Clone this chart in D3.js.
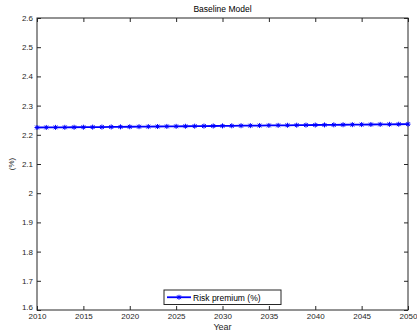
<!DOCTYPE html>
<html>
<head>
<meta charset="utf-8">
<script src="https://cdn.jsdelivr.net/npm/d3@7"></script>
<style>
  body { margin: 0; background: #fff; }
  svg { display: block; font-family: "Liberation Sans", Arial, sans-serif; }
</style>
</head>
<body>
<svg id="chart" width="417" height="335"></svg>
<script>
// data
var years = d3.range(2010, 2051);
var riskPremium = [
  2.2250, 2.2252, 2.2254, 2.2256, 2.2258, 2.2260, 2.2263, 2.2266, 2.2269, 2.2272,
  2.2275, 2.2278, 2.2281, 2.2284, 2.2287, 2.2290, 2.2293, 2.2296, 2.2299, 2.2302,
  2.2305, 2.2308, 2.2311, 2.2314, 2.2317, 2.2320, 2.2323, 2.2326, 2.2329, 2.2332,
  2.2335, 2.2338, 2.2341, 2.2344, 2.2347, 2.2350, 2.2353, 2.2356, 2.2359, 2.2362,
  2.2365
];
var xTicks = [2010, 2015, 2020, 2025, 2030, 2035, 2040, 2045, 2050];
var yTicks = [1.6, 1.7, 1.8, 1.9, 2, 2.1, 2.2, 2.3, 2.4, 2.5, 2.6];
var title = 'Baseline Model';
var seriesName = 'Risk premium (%)';

// plot box (note: "top" is reserved on window, so use pTop etc.)
var pLeft = 37, pRight = 408, pTop = 18, pBottom = 310;
var svg = d3.select('#chart');

var x = d3.scaleLinear().domain([2010, 2050]).range([pLeft, pRight]);
var y = d3.scaleLinear().domain([1.6, 2.6]).range([pBottom, pTop]);

var axisColor = '#262626';
var tickLen = 4;

// box
svg.append('rect')
  .attr('x', pLeft).attr('y', pTop)
  .attr('width', pRight - pLeft).attr('height', pBottom - pTop)
  .attr('fill', 'none').attr('stroke', axisColor).attr('stroke-width', 1);

// axes (ticks pointing inward, MATLAB style)
function styleAxis(g){
  g.select('.domain').remove();
  g.selectAll('.tick line').attr('stroke', axisColor);
  g.selectAll('.tick text').attr('fill', axisColor).style('font-size', '8px');
}
svg.append('g').attr('transform', 'translate(0,' + pBottom + ')')
  .call(d3.axisBottom(x).tickValues(xTicks).tickFormat(d3.format('d')).tickSizeInner(-tickLen).tickPadding(3))
  .call(styleAxis);
svg.append('g').attr('transform', 'translate(0,' + pTop + ')')
  .call(d3.axisTop(x).tickValues(xTicks).tickFormat('').tickSizeInner(-tickLen))
  .call(styleAxis);
var yAxisG = svg.append('g').attr('transform', 'translate(' + pLeft + ',0)')
  .call(d3.axisLeft(y).tickValues(yTicks).tickFormat(function(d){ return String(d); }).tickSizeInner(-tickLen).tickPadding(4))
  .call(styleAxis);
// lowest label sits a little higher so it clears the 2010 label
yAxisG.selectAll('.tick').filter(function(d){ return d === 1.6; }).select('text').attr('y', -3);
svg.append('g').attr('transform', 'translate(' + pRight + ',0)')
  .call(d3.axisRight(y).tickValues(yTicks).tickFormat('').tickSizeInner(-tickLen))
  .call(styleAxis);

// labels
svg.append('text').attr('x', (pLeft + pRight) / 2).attr('y', 12)
  .attr('text-anchor', 'middle').style('font-size', '8.5px').attr('fill', '#000').text(title);
svg.append('text').attr('x', (pLeft + pRight) / 2).attr('y', 330)
  .attr('text-anchor', 'middle').style('font-size', '9px').attr('fill', axisColor).text('Year');
svg.append('text').attr('transform', 'translate(14,' + (pTop + pBottom) / 2 + ') rotate(-90)')
  .attr('text-anchor', 'middle').style('font-size', '8px').attr('fill', axisColor).text('(%)');

// series
var blue = '#0000ff';
var line = d3.line().x(function(d, i){ return x(years[i]); }).y(function(d){ return y(d); });
svg.append('path').datum(riskPremium)
  .attr('d', line).attr('fill', 'none').attr('stroke', blue).attr('stroke-width', 1.8);

function star(g, cx, cy){
  var r = 2.5;
  g.append('path')
    .attr('d', 'M' + (cx - r) + ',' + cy + 'H' + (cx + r) +
               'M' + cx + ',' + (cy - r) + 'V' + (cy + r) +
               'M' + (cx - r * 0.75) + ',' + (cy - r * 0.75) + 'L' + (cx + r * 0.75) + ',' + (cy + r * 0.75) +
               'M' + (cx - r * 0.75) + ',' + (cy + r * 0.75) + 'L' + (cx + r * 0.75) + ',' + (cy - r * 0.75))
    .attr('stroke', blue).attr('stroke-width', 1).attr('fill', 'none');
}
var markers = svg.append('g');
riskPremium.forEach(function(d, i){ star(markers, x(years[i]), y(d)); });

// legend
var lg = svg.append('g');
lg.append('rect').attr('x', 164).attr('y', 290).attr('width', 117).attr('height', 14.5)
  .attr('fill', '#fff').attr('stroke', axisColor).attr('stroke-width', 1);
lg.append('line').attr('x1', 167).attr('x2', 191).attr('y1', 297.25).attr('y2', 297.25)
  .attr('stroke', blue).attr('stroke-width', 1.8);
star(lg, 179, 297.25);
lg.append('text').attr('x', 193).attr('y', 300.5).style('font-size', '8.5px')
  .attr('fill', '#000').text(seriesName);
</script>
</body>
</html>
